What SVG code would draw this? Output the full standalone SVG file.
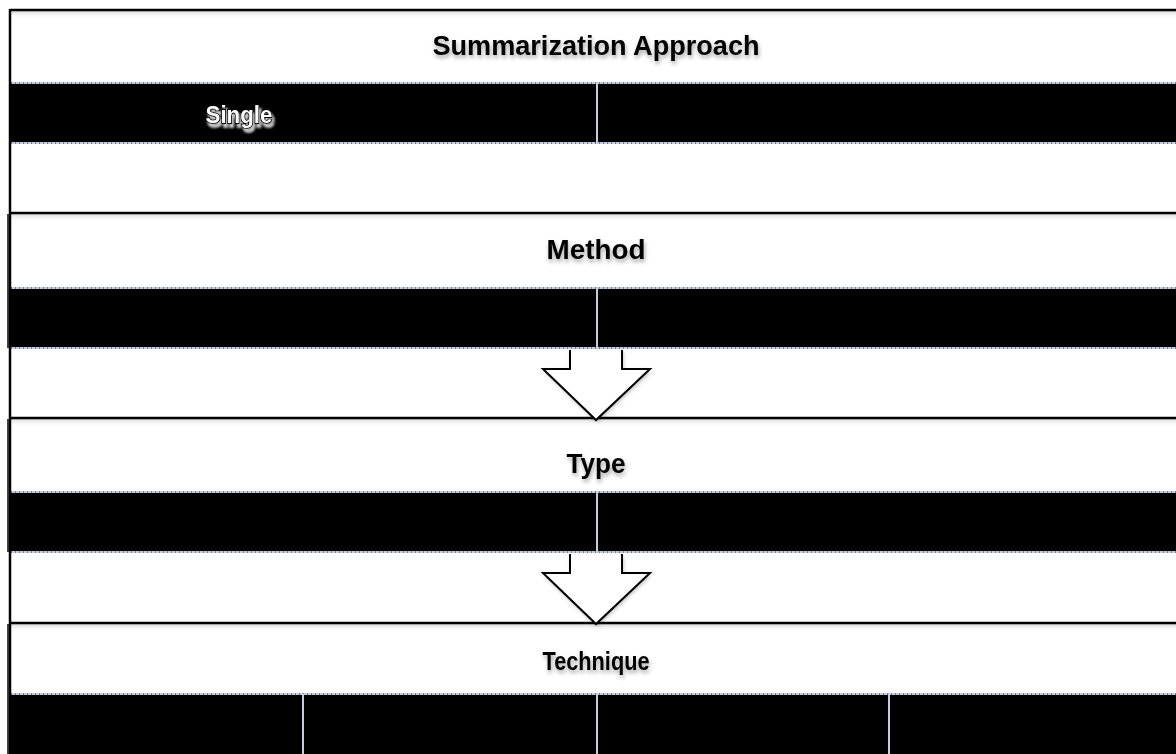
<svg xmlns="http://www.w3.org/2000/svg" width="1176" height="754" viewBox="0 0 1176 754">
<defs>
<filter id="ts" x="-10%" y="-30%" width="120%" height="180%">
<feDropShadow dx="1" dy="3" stdDeviation="2" flood-color="#000" flood-opacity="0.35"/>
</filter>
<filter id="ts2" x="-20%" y="-40%" width="140%" height="200%">
<feDropShadow dx="2" dy="4" stdDeviation="1.2" flood-color="#c8c8c8" flood-opacity="1"/>
</filter>
<filter id="as" x="-20%" y="-20%" width="140%" height="140%">
<feDropShadow dx="1" dy="2" stdDeviation="2" flood-color="#000" flood-opacity="0.3"/>
</filter>
<linearGradient id="sh" x1="0" y1="0" x2="0" y2="1">
<stop offset="0" stop-color="#d8d8d8"/>
<stop offset="1" stop-color="#fff" stop-opacity="0"/>
</linearGradient>
<style>
.title{font-family:"Liberation Sans",Arial,sans-serif;font-weight:bold;font-size:27px;fill:#000;text-anchor:middle;filter:url(#ts)}
.single{font-family:"Liberation Sans",Arial,sans-serif;font-weight:bold;font-size:23px;fill:#fff;stroke:#000;stroke-width:2;paint-order:stroke;text-anchor:middle;filter:url(#ts2)}
.band{fill:#000}
.edge{stroke:#c5cde0;stroke-width:2}
.dots{stroke:#333;stroke-width:1;stroke-dasharray:1 3}
.div{stroke:#c5cde0;stroke-width:2}
.frame{stroke:#000;stroke-width:2.5;fill:none}
.side{stroke:#444;stroke-width:2}
.afill{fill:#fff;stroke:none;filter:url(#as)}
.aline{fill:none;stroke:#000;stroke-width:2;stroke-linejoin:miter}
</style>
</defs>
<rect width="1176" height="754" fill="#fff"/>

<g id="approach">
<rect x="11" y="11" width="1165" height="8" fill="url(#sh)"/>
<line class="frame" x1="10" y1="10" x2="1176" y2="10"/>
<text class="title" x="596" y="55" textLength="327" lengthAdjust="spacingAndGlyphs">Summarization Approach</text>
<rect class="band" x="11" y="83" width="1165" height="60"/>
<line class="edge" x1="11" y1="83" x2="1176" y2="83"/>
<line class="dots" x1="11" y1="83" x2="1176" y2="83"/>
<line class="edge" x1="11" y1="143" x2="1176" y2="143"/>
<line class="dots" x1="11" y1="143" x2="1176" y2="143"/>
<line class="div" x1="597" y1="83" x2="597" y2="143"/>
<text class="single" x="239" y="123" textLength="67" lengthAdjust="spacingAndGlyphs">Single</text>
</g>

<g id="method">
<rect x="11" y="214" width="1165" height="8" fill="url(#sh)"/>
<line class="frame" x1="10" y1="213" x2="1176" y2="213"/>
<line class="side" x1="8" y1="214" x2="8" y2="348"/>
<text class="title" x="596" y="259" textLength="99" lengthAdjust="spacingAndGlyphs">Method</text>
<rect class="band" x="11" y="288" width="1165" height="60"/>
<line class="edge" x1="11" y1="288" x2="1176" y2="288"/>
<line class="dots" x1="11" y1="288" x2="1176" y2="288"/>
<line class="edge" x1="11" y1="348" x2="1176" y2="348"/>
<line class="dots" x1="11" y1="348" x2="1176" y2="348"/>
<line class="div" x1="597" y1="288" x2="597" y2="349"/>
</g>

<g id="type">
<rect x="11" y="419" width="1165" height="8" fill="url(#sh)"/>
<line class="frame" x1="10" y1="418" x2="1176" y2="418"/>
<line class="side" x1="8" y1="419" x2="8" y2="552"/>
<text class="title" x="596" y="473" textLength="59" lengthAdjust="spacingAndGlyphs">Type</text>
<rect class="band" x="11" y="492" width="1165" height="60"/>
<line class="edge" x1="11" y1="492" x2="1176" y2="492"/>
<line class="dots" x1="11" y1="492" x2="1176" y2="492"/>
<line class="edge" x1="11" y1="552" x2="1176" y2="552"/>
<line class="dots" x1="11" y1="552" x2="1176" y2="552"/>
<line class="div" x1="597" y1="492" x2="597" y2="553"/>
</g>

<g id="technique">
<rect x="11" y="624" width="1165" height="8" fill="url(#sh)"/>
<line class="frame" x1="10" y1="623" x2="1176" y2="623"/>
<line class="side" x1="8" y1="624" x2="8" y2="754"/>
<text class="title" x="596" y="670" style="font-size:25px" textLength="107" lengthAdjust="spacingAndGlyphs">Technique</text>
<rect class="band" x="11" y="694" width="1165" height="60"/>
<line class="edge" x1="11" y1="694" x2="1176" y2="694"/>
<line class="dots" x1="11" y1="694" x2="1176" y2="694"/>
<line class="div" x1="303" y1="694" x2="303" y2="754"/>
<line class="div" x1="597" y1="694" x2="597" y2="754"/>
<line class="div" x1="889" y1="694" x2="889" y2="754"/>
</g>

<g id="outer-frame">
<line class="frame" x1="10" y1="9" x2="10" y2="754"/>
</g>

<g id="connectors">
<polygon class="afill" points="570,350 622,350 622,369 650,369 596,420 543,369 570,369"/>
<path class="aline" d="M570,350 V369 H543 L596,420 L650,369 H622 V350"/>
<polygon class="afill" points="570,554 622,554 622,573 650,573 596,624 543,573 570,573"/>
<path class="aline" d="M570,554 V573 H543 L596,624 L650,573 H622 V554"/>
</g>
</svg>
